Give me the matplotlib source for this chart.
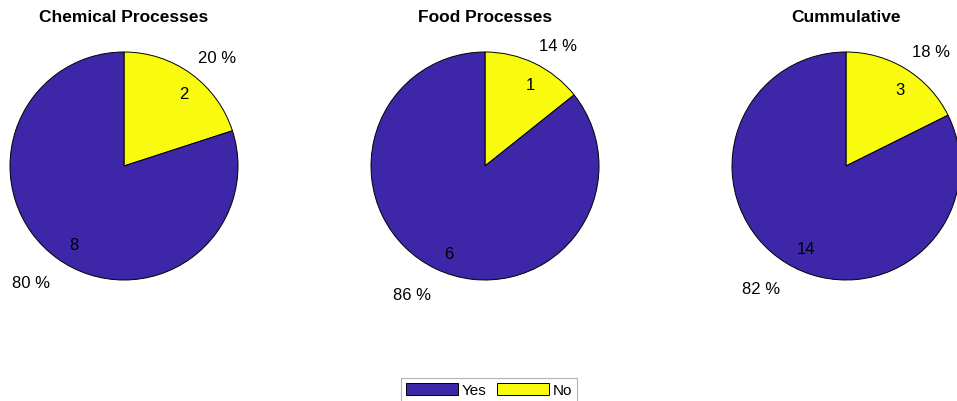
import matplotlib.pyplot as plt
import matplotlib.patches as mpatches
import matplotlib.transforms as mtransforms

plt.rcParams['font.family'] = ['Liberation Sans', 'DejaVu Sans']

titles = ['Chemical Processes', 'Food Processes', 'Cummulative']
categories = ['No', 'Yes']
no_counts = [2, 1, 3]
yes_counts = [8, 6, 14]
colors = {'Yes': '#3e26a8', 'No': '#f9fb0e'}

# pie centres in pixels (figure is 957x402, y measured from the bottom)
centers_x = [124, 485, 846]
center_y = 235
radius = 114

fig = plt.figure(figsize=(9.57, 4.02), dpi=100)
ax = fig.add_axes([0, 0, 1, 1])

def shifted(dy_px):
    return ax.transData + mtransforms.ScaledTranslation(0, dy_px / 100.0, fig.dpi_scale_trans)

for i in range(3):
    vals = [no_counts[i], yes_counts[i]]
    total = sum(vals)
    pct = ['%d %%' % round(100.0 * v / total) for v in vals]
    wedges, texts, autotexts = ax.pie(
        vals, labels=pct, colors=[colors[c] for c in categories],
        startangle=90, counterclock=False, center=(centers_x[i], center_y),
        radius=radius, labeldistance=1.1, pctdistance=0.82,
        autopct=lambda p, t=total: '%d' % round(p * t / 100.0),
        wedgeprops=dict(edgecolor='black', linewidth=0.7),
        textprops=dict(fontsize=12))
    for t in texts:
        # MATLAB style: text sits outside the point, away from the pie
        x, y = t.get_position()
        t.set_ha('left' if x > centers_x[i] else 'right')
        if y > center_y:
            t.set_va('bottom')
        else:
            t.set_va('top')
            t.set_transform(shifted(-8))
    for t in autotexts:
        t.set_ha('left')
        t.set_transform(shifted(-3))
    ax.text(centers_x[i], 402 - 17, titles[i], ha='center', va='center',
            fontsize=12.5, fontweight='bold')

ax.set_xlim(0, 957)
ax.set_ylim(0, 402)
ax.set_aspect('auto')
ax.axis('off')

handles = [mpatches.Patch(facecolor=colors[c], edgecolor='black', linewidth=0.7, label=c)
           for c in ['Yes', 'No']]
leg = fig.legend(handles=handles, loc='upper center', bbox_to_anchor=(489 / 957, 1 - 379 / 402),
                 ncol=2, fontsize=11, frameon=True, fancybox=False, handlelength=3.4,
                 handleheight=0.92, handletextpad=0.26, columnspacing=0.7,
                 borderpad=0.3, borderaxespad=0)
leg.get_frame().set_edgecolor('#a0a0a0')
leg.get_frame().set_linewidth(0.8)

fig.savefig('out.png', dpi=100)
